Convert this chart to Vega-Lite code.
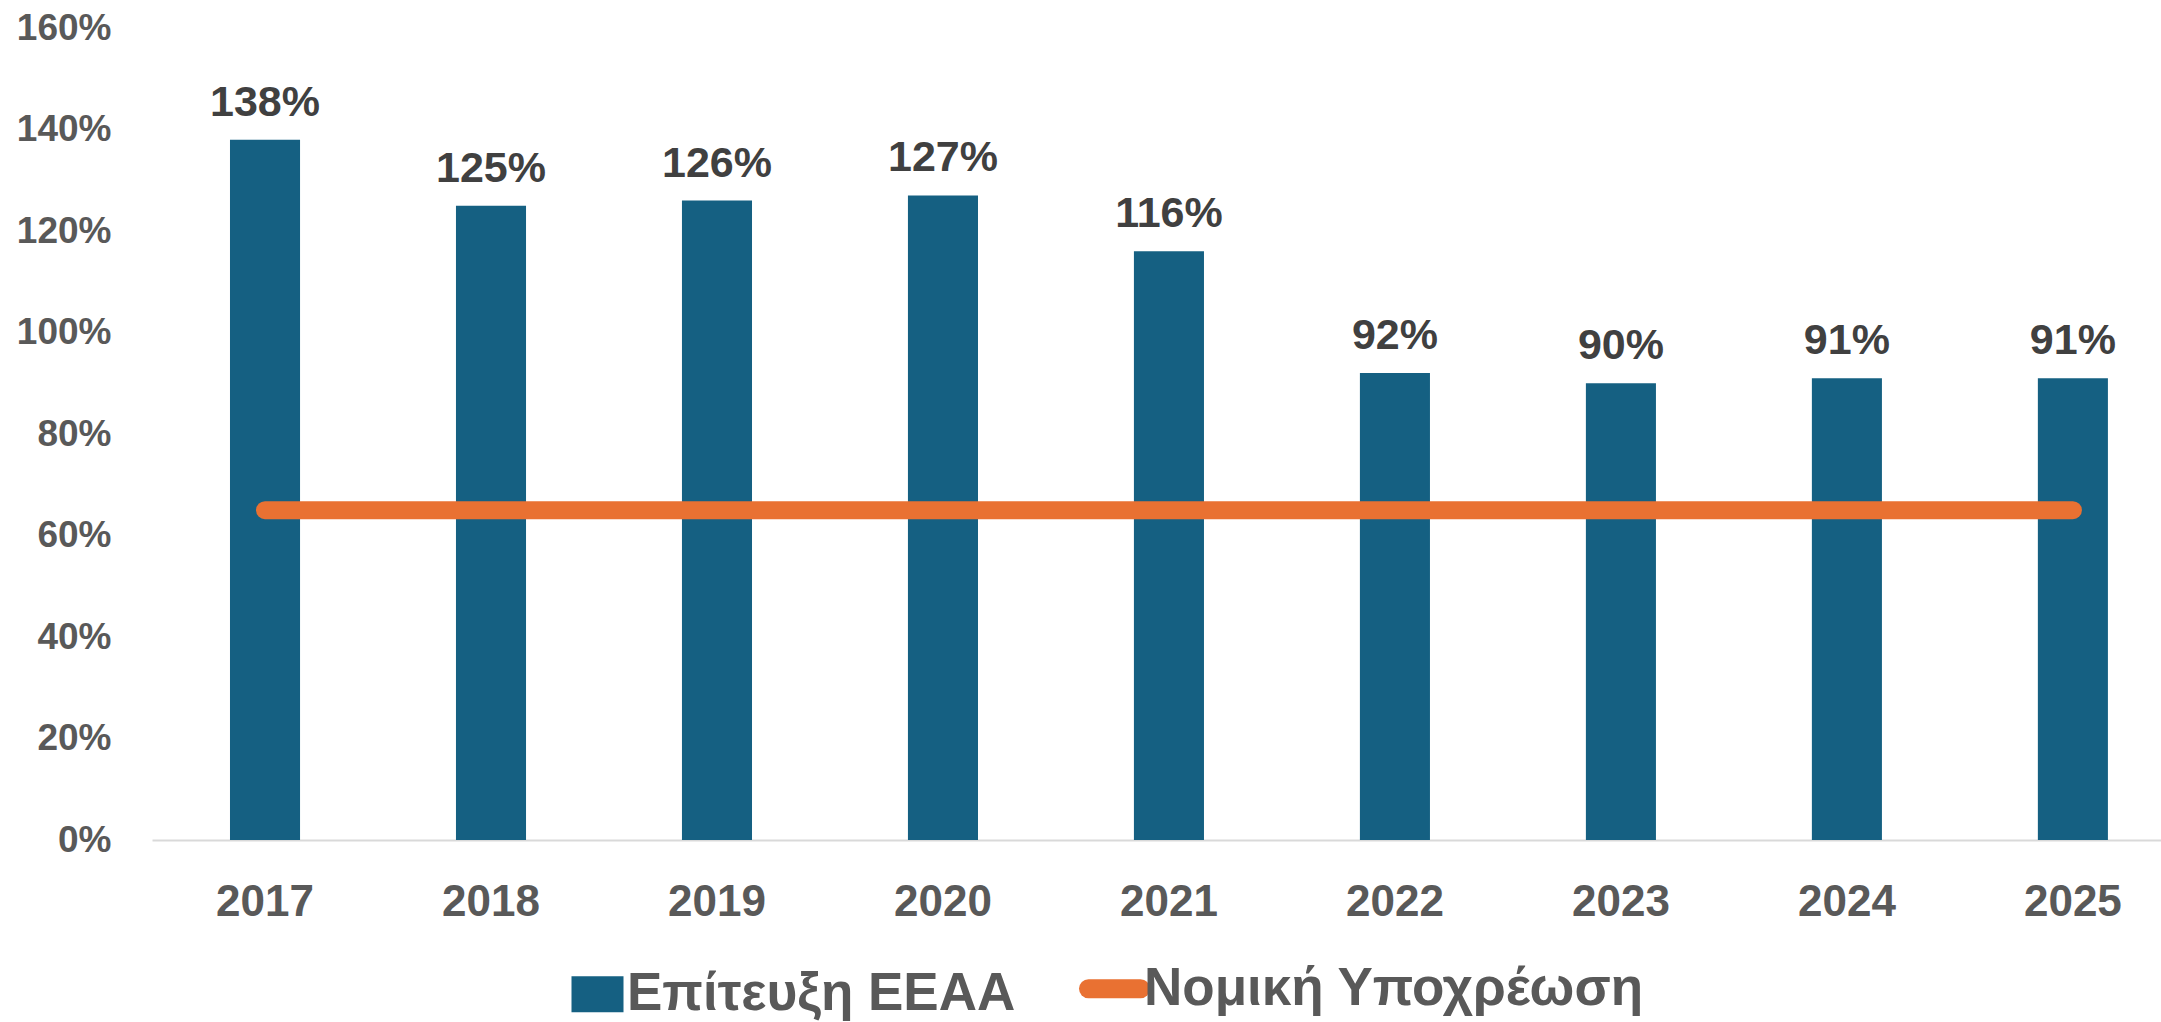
{
  "$schema": "https://vega.github.io/schema/vega-lite/v6.json",
  "width": 2009,
  "height": 812,
  "autosize": {"type": "none"},
  "padding": {"left": 152, "top": 28, "right": 0, "bottom": 182},
  "background": "white",
  "config": {"view": {"stroke": null}},
  "data": {
    "values": [
      {"year": "2017", "achieved": 1.38, "obligation": 0.65},
      {"year": "2018", "achieved": 1.25, "obligation": 0.65},
      {"year": "2019", "achieved": 1.26, "obligation": 0.65},
      {"year": "2020", "achieved": 1.27, "obligation": 0.65},
      {"year": "2021", "achieved": 1.16, "obligation": 0.65},
      {"year": "2022", "achieved": 0.92, "obligation": 0.65},
      {"year": "2023", "achieved": 0.90, "obligation": 0.65},
      {"year": "2024", "achieved": 0.91, "obligation": 0.65},
      {"year": "2025", "achieved": 0.91, "obligation": 0.65}
    ]
  },
  "encoding": {
    "x": {
      "field": "year",
      "type": "ordinal",
      "scale": {"paddingInner": 0.69, "paddingOuter": 0.29, "align": 0.595},
      "axis": {
        "title": null,
        "labelAngle": 0,
        "ticks": false,
        "domainColor": "#D9D9D9",
        "domainWidth": 2,
        "labelFont": "Liberation Sans",
        "labelFontSize": 44,
        "labelFontWeight": "bold",
        "labelColor": "#595959",
        "labelPadding": 40
      }
    }
  },
  "layer": [
    {
      "mark": {"type": "bar"},
      "encoding": {
        "y": {
          "field": "achieved",
          "type": "quantitative",
          "scale": {"domain": [0, 1.6], "nice": false},
          "axis": {
            "title": null,
            "values": [0, 0.2, 0.4, 0.6, 0.8, 1.0, 1.2, 1.4, 1.6],
            "format": ".0%",
            "grid": false,
            "domain": false,
            "ticks": false,
            "labelFont": "Liberation Sans",
            "labelFontSize": 37,
            "labelFontWeight": "bold",
            "labelColor": "#595959",
            "labelPadding": 41
          }
        },
        "color": {
          "datum": "Επίτευξη ΕΕΑΑ",
          "type": "nominal",
          "scale": {"domain": ["Επίτευξη ΕΕΑΑ", "Νομική Υποχρέωση"], "range": ["#156082", "#E97132"]},
          "legend": {
            "orient": "none",
            "legendX": 419,
            "legendY": 934,
            "direction": "horizontal",
            "title": null,
            "padding": 0,
            "labelFont": "Liberation Sans",
            "labelFontSize": 53,
            "labelFontWeight": "bold",
            "labelColor": "#595959",
            "labelLimit": 0,
            "labelOffset": 3,
            "columnPadding": 34,
            "symbolSize": 2704,
            "encode": {
              "symbols": {
                "update": {
                  "shape": {"signal": "datum.value === 'Επίτευξη ΕΕΑΑ' ? 'M-1,-0.69H1V0.69H-1Z' : 'stroke'"},
                  "fill": {"signal": "datum.value === 'Επίτευξη ΕΕΑΑ' ? '#156082' : 'transparent'"},
                  "stroke": {"signal": "datum.value === 'Επίτευξη ΕΕΑΑ' ? '#156082' : '#E97132'"},
                  "strokeWidth": {"signal": "datum.value === 'Επίτευξη ΕΕΑΑ' ? 0 : 19"},
                  "strokeCap": {"value": "round"},
                  "opacity": {"value": 1},
                  "fillOpacity": {"value": 1},
                  "strokeOpacity": {"value": 1}
                }
              }
            }
          }
        }
      }
    },
    {
      "mark": {"type": "line", "strokeWidth": 18, "strokeCap": "round"},
      "encoding": {
        "y": {"field": "obligation", "type": "quantitative"},
        "color": {"datum": "Νομική Υποχρέωση", "type": "nominal"}
      }
    },
    {
      "mark": {"type": "text", "dy": -24, "baseline": "alphabetic", "font": "Liberation Sans", "fontSize": 43, "fontWeight": "bold", "color": "#404040"},
      "encoding": {
        "y": {"field": "achieved", "type": "quantitative"},
        "text": {"field": "achieved", "type": "quantitative", "format": ".0%"}
      }
    }
  ]
}
